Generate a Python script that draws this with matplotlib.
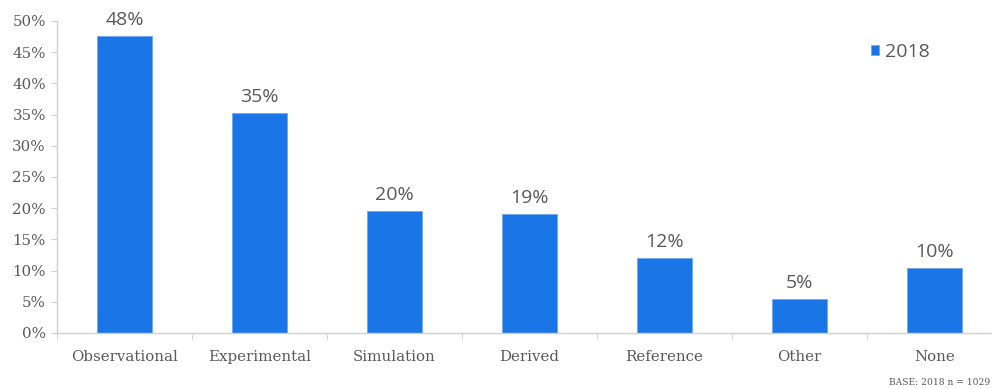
import numpy as np
import matplotlib
matplotlib.use("Agg")
import matplotlib.pyplot as plt
from matplotlib.ticker import FixedLocator, PercentFormatter

categories = ["Observational", "Experimental", "Simulation", "Derived",
              "Reference", "Other", "None"]
values_2018 = [47.6, 35.3, 19.6, 19.1, 12.0, 5.4, 10.4]
labels_2018 = ["48%", "35%", "20%", "19%", "12%", "5%", "10%"]
y_ticks = [0, 5, 10, 15, 20, 25, 30, 35, 40, 45, 50]

BAR_COLOR = "#1A75E6"
TEXT_COLOR = "#595959"
AXIS_COLOR = "#D0D0D0"
SERIF = ["DejaVu Serif"]
SANS = ["Open Sans", "DejaVu Sans"]

fig = plt.figure(figsize=(9.92, 3.89), dpi=100, facecolor="white")
ax = fig.add_axes([57 / 992, 56 / 389, 945 / 992, 312 / 389])

x = np.arange(len(categories))
bars = ax.bar(x, values_2018, width=0.41, color=BAR_COLOR,
              edgecolor="#6FA8F0", linewidth=0.6, label="2018")

for rect, lab in zip(bars, labels_2018):
    ax.annotate(lab, (rect.get_x() + rect.get_width() / 2, rect.get_height()),
                textcoords="offset points", xytext=(0, 5), ha="center",
                va="bottom", fontsize=14, color=TEXT_COLOR, family=SANS)

ax.set_xlim(-0.5, len(categories) - 0.5)
ax.set_ylim(0, 50)
ax.yaxis.set_major_locator(FixedLocator(y_ticks))
ax.yaxis.set_major_formatter(PercentFormatter(decimals=0))

# category labels centred, tick marks between categories
ax.set_xticks(x)
ax.set_xticklabels(categories)
ax.set_xticks(np.arange(len(categories) + 1) - 0.5, minor=True)
ax.tick_params(axis="x", which="major", length=0, pad=12, labelsize=10.8,
               labelcolor=TEXT_COLOR)
ax.tick_params(axis="x", which="minor", length=5, color=AXIS_COLOR, direction="out")
ax.tick_params(axis="y", length=4, color=AXIS_COLOR, labelsize=10.8,
               labelcolor=TEXT_COLOR, pad=4)
for t in ax.get_xticklabels() + ax.get_yticklabels():
    t.set_family(SERIF)

for side in ("top", "right"):
    ax.spines[side].set_visible(False)
for side in ("left", "bottom"):
    ax.spines[side].set_color(AXIS_COLOR)
    ax.spines[side].set_linewidth(1.0)

leg = ax.legend(loc="center left", bbox_to_anchor=(853 / 992, 1 - 52 / 389),
                bbox_transform=fig.transFigure, frameon=False,
                handlelength=0.45, handleheight=0.45, handletextpad=0.3,
                prop={"family": SANS, "size": 14})
for t in leg.get_texts():
    t.set_color(TEXT_COLOR)

fig.text(990 / 992, 2 / 389, "BASE: 2018 n = 1029", ha="right", va="bottom",
         fontsize=6.6, color=TEXT_COLOR, family=SERIF)

fig.savefig("out.png", dpi=100, facecolor="white")
